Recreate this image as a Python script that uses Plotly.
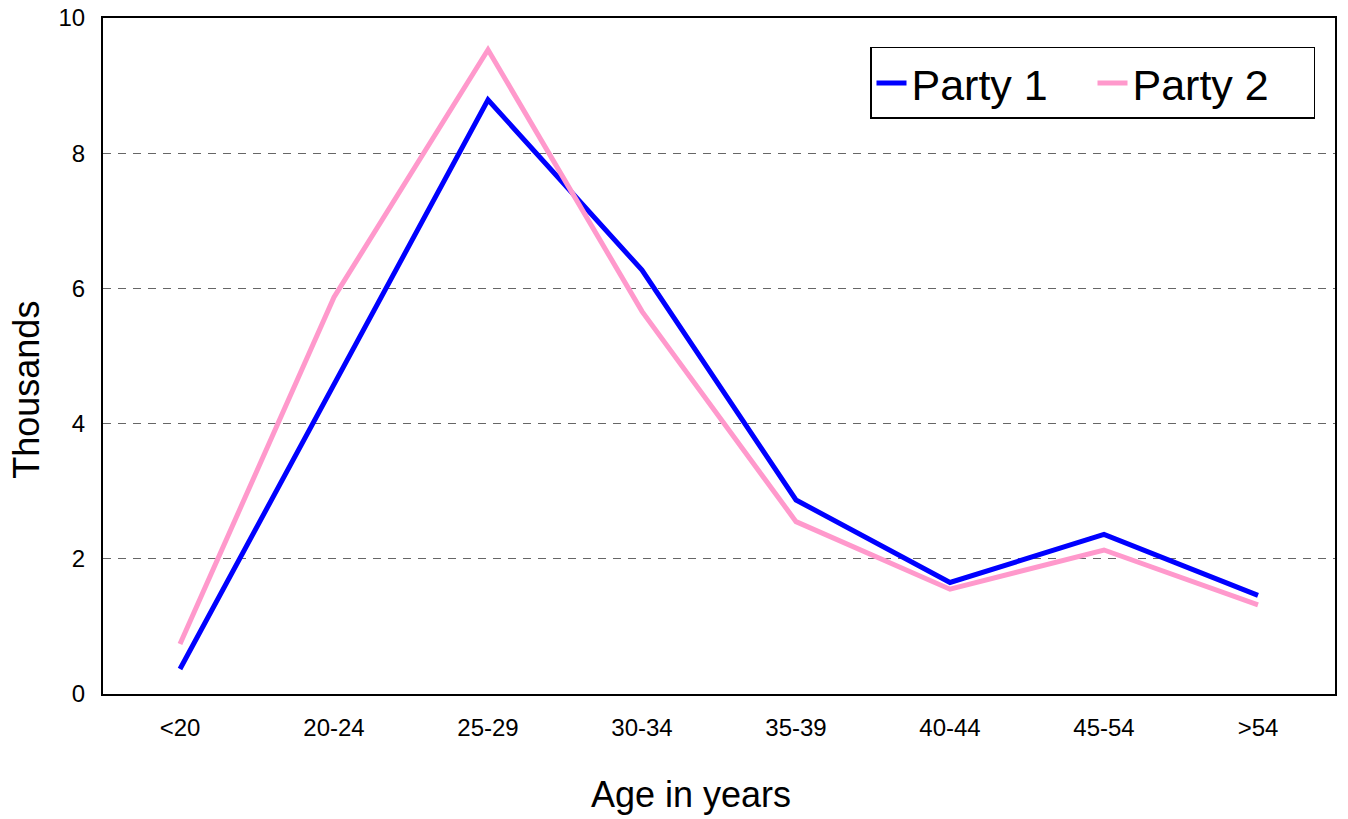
import plotly.graph_objects as go

categories = ["<20", "20-24", "25-29", "30-34", "35-39", "40-44", "45-54", ">54"]
party1 = [0.37, 4.58, 8.79, 6.27, 2.87, 1.65, 2.36, 1.46]
party2 = [0.74, 5.87, 9.53, 5.66, 2.55, 1.55, 2.13, 1.32]
y_ticks = [0, 2, 4, 6, 8, 10]

FONT = "Liberation Sans, Arial, sans-serif"

fig = go.Figure()
fig.add_trace(go.Scatter(x=categories, y=party1, mode="lines", name="Party 1",
                         line=dict(color="#0000FF", width=5)))
fig.add_trace(go.Scatter(x=categories, y=party2, mode="lines", name="Party 2",
                         line=dict(color="#FF99CC", width=5)))

fig.update_layout(
    width=1348, height=819,
    margin=dict(l=103, r=13, t=18, b=125, autoexpand=False),
    paper_bgcolor="white", plot_bgcolor="white",
    font=dict(family=FONT, color="black"),
    showlegend=True,
    legend=dict(orientation="h", x=(870 - 103) / 1232, y=(694.5 - 47) / 676.5,
                xanchor="left", yanchor="top",
                font=dict(size=43, family=FONT), bordercolor="black", borderwidth=1.5,
                bgcolor="white", entrywidth=176, tracegroupgap=0),
    xaxis=dict(type="category", range=[-0.5, 7.5], showgrid=False, automargin=False,
               showline=True, linecolor="black", linewidth=2, mirror=True,
               ticks="", tickfont=dict(size=24, family=FONT), ticklabelstandoff=11),
    yaxis=dict(range=[0, 10], tickvals=y_ticks, showgrid=True, gridcolor="#666666",
               griddash="8px,7px", gridwidth=1, zeroline=False, automargin=False,
               showline=True, linecolor="black", linewidth=2, mirror=True,
               ticks="", tickfont=dict(size=24, family=FONT), ticklabelstandoff=11),
    annotations=[
        dict(text="Age in years", xref="paper", yref="paper", x=(691 - 103) / 1232,
             y=-(795 - 694.5) / 676.5, xanchor="center", yanchor="middle",
             showarrow=False, font=dict(size=36, family=FONT)),
        dict(text="Thousands", xref="paper", yref="paper", x=-(103 - 27) / 1232,
             y=(694.5 - 390) / 676.5, xanchor="center", yanchor="middle", textangle=-90,
             showarrow=False, font=dict(size=36, family=FONT)),
    ],
)

fig.write_html(
    "out.html",
    config={"displayModeBar": False},
    post_script="document.body.style.margin='0';document.body.style.padding='0';"
                "document.documentElement.style.margin='0';",
)
